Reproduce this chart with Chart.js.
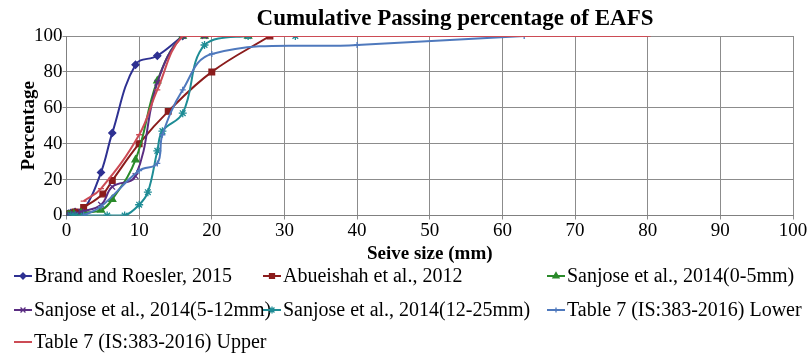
<!DOCTYPE html>
<html>
<head>
<meta charset="utf-8">
<script src="https://cdn.jsdelivr.net/npm/chart.js@4.4.1/dist/chart.umd.min.js"></script>
<style>
  html, body { margin: 0; padding: 0; background: #fff; }
  #wrap { width: 812px; height: 353px; }
</style>
</head>
<body>
<div id="wrap"><canvas id="c" width="812" height="353"></canvas></div>
<script>
// Sieve sizes (mm) and cumulative percentage passing, per source
const brandSize = [0.075, 0.15, 0.3, 0.6, 1.18, 2.36, 4.75, 6.3, 9.5, 12.5, 16];
const brandPass = [0.5, 0.8, 1, 1.5, 2, 3, 24, 46, 84, 89, 100];

const abueishahSize = [0.075, 0.3, 1.18, 2.36, 5, 6.3, 10, 14, 20, 28];
const abueishahPass = [0.5, 1, 2, 4.5, 12, 19.5, 40, 58, 80, 100];

const sanjoseFineSize = [0.063, 0.125, 0.25, 0.5, 1, 2, 4.75, 6.3, 9.5, 12.5, 16, 19, 25];
const sanjoseFinePass = [0, 0, 0.3, 0.5, 1, 1.5, 3, 9, 31, 75, 100, 100, 100];

const sanjoseMidSize = [0.063, 0.125, 0.25, 0.5, 1, 2, 4.75, 6.3, 9.5, 12.5, 16, 19, 25];
const sanjoseMidPass = [0, 0, 0.3, 0.5, 1, 2, 6, 16, 22, 74, 100, 100, 100];

const sanjoseCoarseSize = [0.6, 1.18, 2.36, 5.6, 8, 10, 11.2, 12.5, 13.2, 16, 19, 25, 31.5];
const sanjoseCoarsePass = [0, 0, 0, 0, 0, 6, 13, 36, 47, 57, 95, 100, 100];

const lowerSize = [2.36, 4.75, 10, 12.5, 13.2, 16, 20, 40, 63];
const lowerPass = [0, 5, 25, 29, 45, 70, 90, 95, 100];

const upperSize = [2.36, 4.75, 10, 12.5, 16, 20, 40, 63, 80];
const upperPass = [8, 15, 45, 70, 100, 100, 100, 100, 100];

const xTicks = [0, 10, 20, 30, 40, 50, 60, 70, 80, 90, 100];
const yTicks = [0, 20, 40, 60, 80, 100];

const seriesNames = [
  'Brand and Roesler, 2015',
  'Abueishah et al., 2012',
  'Sanjose et al., 2014(0-5mm)',
  'Sanjose et al., 2014(5-12mm)',
  'Sanjose et al., 2014(12-25mm)',
  'Table 7 (IS:383-2016) Lower',
  'Table 7 (IS:383-2016) Upper'
];

const SERIF = '"Liberation Serif", "Times New Roman", serif';

function pairs(xs, ys) { return xs.map((x, i) => ({ x: x, y: ys[i] })); }

const styles = [
  { color: '#2E3192', point: 'rectRot', radius: 3.5 },
  { color: '#8B1C1C', point: 'rect', radius: 4 },
  { color: '#2A8A2A', point: 'triangle', radius: 4 },
  { color: '#5A2D82', point: 'crossRot', radius: 4 },
  { color: '#1E8C95', point: 'star', radius: 4 },
  { color: '#4F79BD', point: 'cross', radius: 3 },
  { color: '#CC4B55', point: 'line', radius: 3 }
];

const seriesData = [
  pairs(brandSize, brandPass),
  pairs(abueishahSize, abueishahPass),
  pairs(sanjoseFineSize, sanjoseFinePass),
  pairs(sanjoseMidSize, sanjoseMidPass),
  pairs(sanjoseCoarseSize, sanjoseCoarsePass),
  pairs(lowerSize, lowerPass),
  pairs(upperSize, upperPass)
];

const datasets = seriesData.map((d, i) => ({
  label: seriesNames[i],
  data: d,
  borderColor: styles[i].color,
  backgroundColor: styles[i].color,
  pointBorderColor: styles[i].color,
  pointBackgroundColor: styles[i].color,
  pointStyle: styles[i].point,
  pointRadius: styles[i].radius,
  pointBorderWidth: 1.3,
  borderWidth: 2,
  tension: 0.4,
  fill: false,
  order: seriesNames.length - i
}));

// Title drawn above the plot
const titlePlugin = {
  id: 'chartTitle',
  afterDraw(chart) {
    const ctx = chart.ctx;
    ctx.save();
    ctx.font = 'bold 23px ' + SERIF;
    ctx.fillStyle = '#000';
    ctx.textAlign = 'center';
    ctx.textBaseline = 'middle';
    ctx.fillText('Cumulative Passing percentage of EAFS', 455, 19);
    ctx.restore();
  }
};

// Legend laid out in three fixed columns
const legendPlugin = {
  id: 'gridLegend',
  afterDraw(chart) {
    const ctx = chart.ctx;
    const cols = [14, 263, 547];
    const rows = [276, 310, 342];
    ctx.save();
    ctx.font = '20px ' + SERIF;
    ctx.textBaseline = 'middle';
    ctx.textAlign = 'left';
    seriesNames.forEach((name, i) => {
      const x = cols[i % 3];
      const y = rows[Math.floor(i / 3)];
      const st = styles[i];
      ctx.strokeStyle = st.color;
      ctx.fillStyle = st.color;
      ctx.lineWidth = 2;
      ctx.beginPath();
      ctx.moveTo(x, y);
      ctx.lineTo(x + 18, y);
      ctx.stroke();
      if (st.point !== 'line') {
        ctx.lineWidth = 1.3;
        Chart.helpers.drawPoint(ctx, { pointStyle: st.point, radius: st.radius - 0.5, rotation: 0, borderWidth: 1.3 }, x + 9, y);
      }
      ctx.fillStyle = '#000';
      ctx.fillText(name, x + 20, y + 1);
    });
    ctx.restore();
  }
};

new Chart(document.getElementById('c'), {
  type: 'line',
  data: { datasets: datasets },
  plugins: [titlePlugin, legendPlugin],
  options: {
    responsive: false,
    animation: false,
    events: [],
    layout: { padding: { left: 18, right: 19, top: 36, bottom: 87.5 } },
    plugins: { legend: { display: false }, tooltip: { enabled: false }, title: { display: false } },
    scales: {
      x: {
        type: 'linear', min: 0, max: 100,
        afterBuildTicks(s) { s.ticks = xTicks.map(v => ({ value: v })); },
        afterFit(s) { s.height = 50; },
        ticks: { color: '#000', font: { family: SERIF, size: 19 }, padding: 0, maxRotation: 0 },
        grid: { color: '#8c8c8c', lineWidth: 1, tickLength: 4 },
        border: { color: '#808080', width: 1 },
        title: { display: true, text: 'Seive size (mm)', color: '#000', font: { family: SERIF, size: 19, weight: 'bold' }, padding: { top: 0, bottom: 0 } }
      },
      y: {
        type: 'linear', min: 0, max: 100,
        afterBuildTicks(s) { s.ticks = yTicks.map(v => ({ value: v })); },
        afterFit(s) { s.width = 48.5; },
        ticks: { color: '#000', font: { family: SERIF, size: 19 }, padding: 0 },
        grid: { color: '#8c8c8c', lineWidth: 1, tickLength: 4 },
        border: { color: '#808080', width: 1 },
        title: { display: true, text: 'Percentage', color: '#000', font: { family: SERIF, size: 19, weight: 'bold' }, padding: { top: 0, bottom: 0 } }
      }
    }
  }
});
</script>
</body>
</html>
